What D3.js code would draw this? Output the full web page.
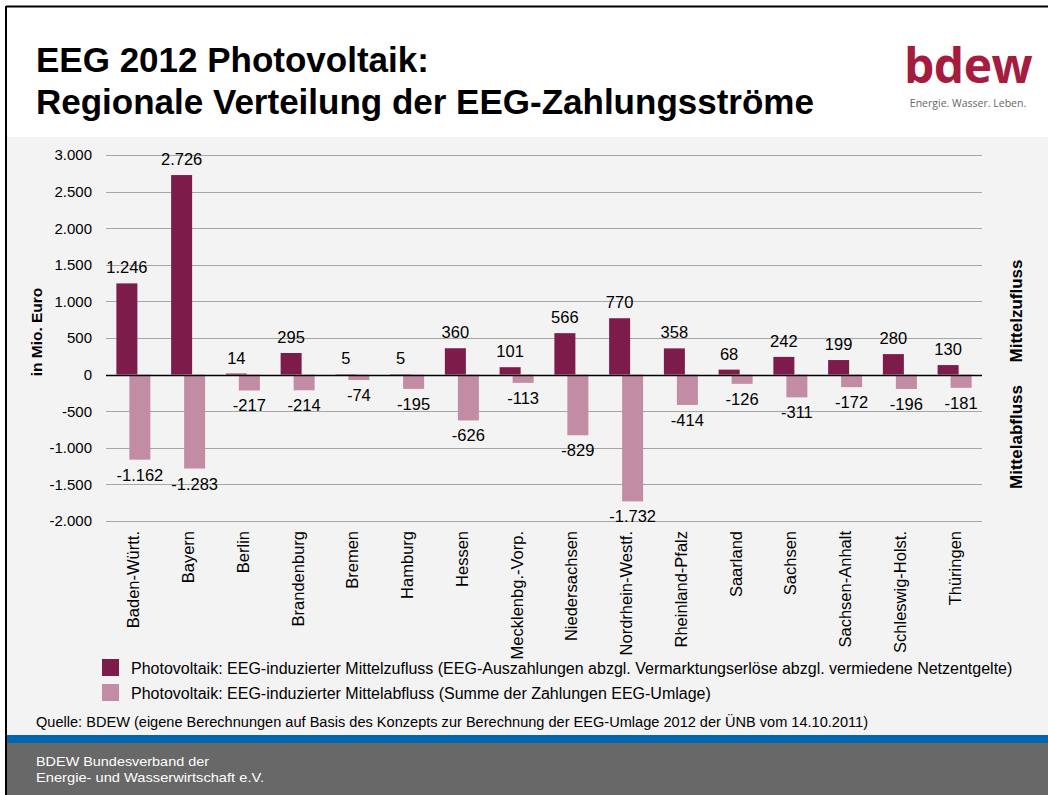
<!DOCTYPE html>
<html>
<head>
<meta charset="utf-8">
<script src="https://cdnjs.cloudflare.com/ajax/libs/d3/7.8.5/d3.min.js"></script>
<style>
  body { margin: 0; background: #fff; }
  svg { display: block; font-family: "Liberation Sans", Arial, sans-serif; }
</style>
</head>
<body>
<div id="chart"></div>
<script>
// Werte in Mio. Euro
const laender = ["Baden-Württ.", "Bayern", "Berlin", "Brandenburg", "Bremen", "Hamburg", "Hessen",
  "Mecklenbg.-Vorp.", "Niedersachsen", "Nordrhein-Westf.", "Rheinland-Pfalz", "Saarland",
  "Sachsen", "Sachsen-Anhalt", "Schleswig-Holst.", "Thüringen"];
const zufluss = [1246, 2726, 14, 295, 5, 5, 360, 101, 566, 770, 358, 68, 242, 199, 280, 130];
const abfluss = [-1162, -1283, -217, -214, -74, -195, -626, -113, -829, -1732, -414, -126, -311, -172, -196, -181];
const yTicks = [3000, 2500, 2000, 1500, 1000, 500, 0, -500, -1000, -1500, -2000];
const legendTexte = [
  "Photovoltaik: EEG-induzierter Mittelzufluss (EEG-Auszahlungen abzgl. Vermarktungserlöse abzgl. vermiedene Netzentgelte)",
  "Photovoltaik: EEG-induzierter Mittelabfluss (Summe der Zahlungen EEG-Umlage)"
];

const W = 1048, H = 795;
const colZu = "#7d1b4a", colAb = "#c28ca4";

const de = d3.formatLocale({ decimal: ",", thousands: ".", grouping: [3], currency: ["", " €"], minus: "-" });
const fmt = de.format(",d");

const svg = d3.select("#chart").append("svg")
  .attr("width", W).attr("height", H);

// Hintergrund / Rahmen
svg.append("rect").attr("x", 0).attr("y", 0).attr("width", W).attr("height", H).attr("fill", "#fff");
svg.append("rect").attr("x", 7).attr("y", 137).attr("width", W - 7).attr("height", 598).attr("fill", "#f3f3f3");
svg.append("rect").attr("x", 7).attr("y", 735).attr("width", W - 7).attr("height", 8).attr("fill", "#0066b0");
svg.append("rect").attr("x", 7).attr("y", 743).attr("width", W - 7).attr("height", 52).attr("fill", "#686868");
svg.append("line").attr("x1", 6).attr("x2", W).attr("y1", 6.5).attr("y2", 6.5).attr("stroke", "#000").attr("stroke-width", 2);
svg.append("line").attr("x1", 6).attr("x2", 6).attr("y1", 6).attr("y2", H).attr("stroke", "#000").attr("stroke-width", 2);

// Titel
svg.append("text").attr("x", 36).attr("y", 72)
  .style("font-size", "35px").style("font-weight", "bold").text("EEG 2012 Photovoltaik:");
svg.append("text").attr("x", 36).attr("y", 114)
  .style("font-size", "35px").style("font-weight", "bold").text("Regionale Verteilung der EEG-Zahlungsströme");

// Logo
svg.append("text").attr("x", 968).attr("y", 83).attr("text-anchor", "middle")
  .style("font-size", "48px").style("font-weight", "bold").style("font-family", "'Open Sans', sans-serif")
  .style("letter-spacing", "-0.5px").attr("fill", "#a51c3f").text("bdew");
svg.append("text").attr("x", 968).attr("y", 107).attr("text-anchor", "middle")
  .style("font-size", "10.5px").style("font-family", "'Open Sans', sans-serif")
  .attr("fill", "#666").text("Energie. Wasser. Leben.");

// Skalen
const x = d3.scaleBand().domain(laender).range([106, 982]);
const y = d3.scaleLinear().domain([-2000, 3000]).range([521, 155]);
const bw = 21, off = 6.5;

// Gitter
svg.append("g").selectAll("line").data(yTicks.filter(d => d !== 0)).join("line")
  .attr("x1", 106).attr("x2", 982)
  .attr("y1", d => Math.round(y(d)) + 0.5).attr("y2", d => Math.round(y(d)) + 0.5)
  .attr("stroke", "#a6a6a6").attr("stroke-width", 1);

// y-Achse
const yAxis = d3.axisLeft(y).tickValues(yTicks).tickSize(0).tickPadding(0).tickFormat(fmt);
svg.append("g").attr("transform", "translate(92,0)").call(yAxis)
  .call(g => g.select(".domain").remove())
  .selectAll("text").style("font-size", "15px").style("font-family", "'Liberation Sans', Arial, sans-serif")
  .attr("fill", "#000");

// Balken
const pos = laender.map((l, i) => ({ l, v: zufluss[i] }));
const neg = laender.map((l, i) => ({ l, v: abfluss[i] }));

svg.append("g").selectAll("rect").data(pos).join("rect")
  .attr("x", d => x(d.l) + x.bandwidth() / 2 - off - bw / 2)
  .attr("y", d => y(d.v)).attr("width", bw)
  .attr("height", d => y(0) - y(d.v)).attr("fill", colZu);

svg.append("g").selectAll("rect").data(neg).join("rect")
  .attr("x", d => x(d.l) + x.bandwidth() / 2 + off - bw / 2)
  .attr("y", y(0)).attr("width", bw)
  .attr("height", d => y(d.v) - y(0)).attr("fill", colAb);

// Nulllinie
svg.append("line").attr("x1", 106).attr("x2", 982)
  .attr("y1", Math.round(y(0)) + 0.5).attr("y2", Math.round(y(0)) + 0.5)
  .attr("stroke", "#000").attr("stroke-width", 1.3);

// Werte-Beschriftung
svg.append("g").selectAll("text").data(pos).join("text")
  .attr("x", d => x(d.l) + x.bandwidth() / 2 - off)
  .attr("y", d => y(d.v) - 10).attr("text-anchor", "middle")
  .style("font-size", "16.5px").text(d => fmt(d.v));

svg.append("g").selectAll("text").data(neg).join("text")
  .attr("x", d => x(d.l) + x.bandwidth() / 2 + off)
  .attr("y", d => y(d.v) + 21).attr("text-anchor", "middle")
  .style("font-size", "16.5px").text(d => fmt(d.v));

// x-Beschriftung
svg.append("g").selectAll("text").data(laender).join("text")
  .attr("transform", d => "translate(" + (x(d) + x.bandwidth() / 2 + 6) + ",531) rotate(-90)")
  .attr("text-anchor", "end")
  .style("font-size", "16.5px").text(d => d);

// Achsentitel
svg.append("text").attr("transform", "translate(42,332) rotate(-90)").attr("text-anchor", "middle")
  .style("font-size", "15.5px").style("font-weight", "bold").text("in Mio. Euro");
svg.append("text").attr("transform", "translate(1022,311) rotate(-90)").attr("text-anchor", "middle")
  .style("font-size", "17px").style("font-weight", "bold").text("Mittelzufluss");
svg.append("text").attr("transform", "translate(1022,437) rotate(-90)").attr("text-anchor", "middle")
  .style("font-size", "17px").style("font-weight", "bold").text("Mittelabfluss");

// Legende
const leg = svg.append("g").selectAll("g").data(legendTexte).join("g")
  .attr("transform", (d, i) => "translate(102," + (659 + i * 25) + ")");
leg.append("rect").attr("width", 17).attr("height", 17).attr("fill", (d, i) => i === 0 ? colZu : colAb);
leg.append("text").attr("x", 29).attr("y", 14.5).style("font-size", "16px").text(d => d);

// Quelle
svg.append("text").attr("x", 36).attr("y", 727)
  .style("font-size", "14px")
  .attr("textLength", 832).attr("lengthAdjust", "spacingAndGlyphs")
  .text("Quelle: BDEW (eigene Berechnungen auf Basis des Konzepts zur Berechnung der EEG-Umlage 2012 der ÜNB vom 14.10.2011)");

// Fußzeile
svg.append("text").attr("x", 36).attr("y", 766).attr("fill", "#fff")
  .style("font-size", "13.5px")
  .attr("textLength", 173).attr("lengthAdjust", "spacingAndGlyphs")
  .text("BDEW Bundesverband der");
svg.append("text").attr("x", 36).attr("y", 782).attr("fill", "#fff")
  .style("font-size", "13.5px")
  .attr("textLength", 228).attr("lengthAdjust", "spacingAndGlyphs")
  .text("Energie- und Wasserwirtschaft e.V.");
</script>
</body>
</html>
